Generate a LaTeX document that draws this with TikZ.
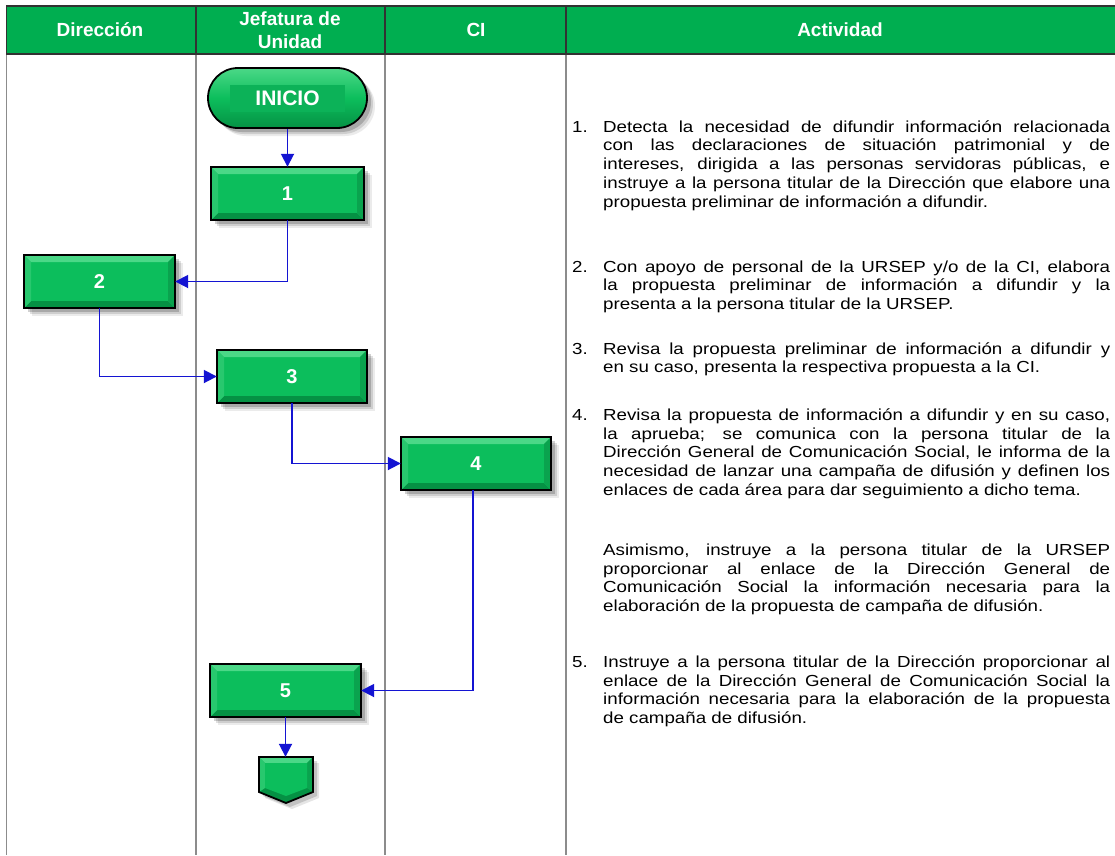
\documentclass[tikz,border=0pt]{standalone}
\usepackage{fontspec}
\setmainfont{Liberation Sans}
\newfontfamily\bodyfont[FakeStretch=1.17]{Liberation Sans}
\usetikzlibrary{arrows.meta}
\definecolor{hdr}{RGB}{0,174,80}
\definecolor{gmain}{RGB}{12,190,92}
\definecolor{gtop}{RGB}{75,216,135}
\definecolor{gleft}{RGB}{40,200,110}
\definecolor{gright}{RGB}{10,163,78}
\definecolor{gbot}{RGB}{5,145,68}
\definecolor{gin}{RGB}{12,178,88}
\definecolor{flowc}{RGB}{20,20,210}
\definecolor{rulec}{RGB}{140,140,140}
\definecolor{hdrline}{RGB}{50,50,50}
\tikzset{
  hdrtext/.style={font=\fontsize{19}{23}\selectfont\bfseries, text=white, align=center, inner sep=0},
  pbox/.style={fill=gmain, inner sep=0, text=white, font=\fontsize{20}{24}\selectfont\bfseries},
  flow/.style={draw=flowc, line width=1.8pt, -{Triangle[length=13pt,width=13pt]}},
  bodytext/.style={anchor=north west, inner sep=0, text width=507pt, font=\bodyfont\fontsize{16}{18.7}\selectfont},
  numtext/.style={anchor=north west, inner sep=0, font=\bodyfont\fontsize{16}{18.7}\selectfont},
}
\newcommand\jline[1]{\hbox to 507pt{\spaceskip=0pt\xspaceskip=0pt\strut #1}}
\newcommand\lline[1]{\hbox{\spaceskip=0pt\xspaceskip=0pt\strut #1}}
\newcommand\bbox[6]{%
  \pgfmathsetmacro\xa{#2-#4/2}\pgfmathsetmacro\xb{#2+#4/2}%
  \pgfmathsetmacro\ya{#3-#5/2}\pgfmathsetmacro\yb{#3+#5/2}%
  \foreach \s/\op in {8/0.08,6/0.12,4/0.18}{\fill[black,opacity=\op] (\xa+\s,\ya+\s) rectangle (\xb+\s,\yb+\s);}%
  \node[pbox, minimum width=#4pt, minimum height=#5pt] (#1) at (#2,#3) {};%
  \fill[gtop] (\xa,\ya) -- (\xb,\ya) -- (\xb-7,\ya+7) -- (\xa+7,\ya+7) -- cycle;%
  \fill[gbot] (\xa,\yb) -- (\xb,\yb) -- (\xb-7,\yb-7) -- (\xa+7,\yb-7) -- cycle;%
  \fill[gleft] (\xa,\ya) -- (\xa+7,\ya+7) -- (\xa+7,\yb-7) -- (\xa,\yb) -- cycle;%
  \fill[gright] (\xb,\ya) -- (\xb-7,\ya+7) -- (\xb-7,\yb-7) -- (\xb,\yb) -- cycle;%
  \draw[black, line width=1.8pt] (\xa,\ya) rectangle (\xb,\yb);%
  \node[text=white, font=\fontsize{20}{24}\selectfont\bfseries] at (#1) {#6};%
}
\begin{document}
\begin{tikzpicture}[x=1pt,y=-1pt]
\useasboundingbox (0,0) rectangle (1115,855);
\fill[white] (0,0) rectangle (1115,855);
% table body lines
\foreach \x in {6.5,196,385,566}{\draw[rulec, line width=1.5pt] (\x,54) -- (\x,855);}
% header
\fill[hdr] (6,6) rectangle (1115,54);
\draw[hdrline, line width=1.4pt] (6,6) -- (1115,6);
\draw[hdrline, line width=1.4pt] (6,54) -- (1115,54);
\foreach \x in {6.5,196,385,566}{\draw[hdrline, line width=1.4pt] (\x,6) -- (\x,54);}
\node[hdrtext] (h1) at (100,30) {Dirección};
\node[hdrtext] (h2) at (290,30) {Jefatura de\\Unidad};
\node[hdrtext] (h3) at (476,30) {CI};
\node[hdrtext] (h4) at (840,30) {Actividad};
% INICIO
\foreach \s/\op in {8/0.08,6/0.12,4/0.18}{\fill[black,opacity=\op,rounded corners=30pt] (208+\s,68+\s) rectangle (367+\s,128+\s);}
\node[draw=black, line width=1.8pt, rounded corners=30pt, minimum width=159pt, minimum height=60pt, inner sep=0,
      top color=gtop, bottom color=gbot, middle color=gmain] (inicio) at (287.5,98) {};
\fill[gin] (230,85) rectangle (345,112);
\node[text=white, font=\fontsize{21}{25}\selectfont\bfseries] at (inicio) {INICIO};
% process boxes
\bbox{b1}{287.5}{193.5}{153}{53}{1}
\bbox{b2}{99.5}{281.5}{151}{53}{2}
\bbox{b3}{292}{376.5}{150}{53}{3}
\bbox{b4}{476}{463.5}{150}{53}{4}
\bbox{b5}{285.5}{690.5}{151}{53}{5}
% end connector
\foreach \s/\op in {6/0.10,4/0.15}{\fill[black,opacity=\op] (259+\s,757+\s) -- (313+\s,757+\s) -- (313+\s,792+\s) -- (286+\s,803+\s) -- (259+\s,792+\s) -- cycle;}
\node[inner sep=0, minimum width=54pt, minimum height=46pt] (fin) at (285.5,780) {};
\fill[gbot] (259,757) -- (313,757) -- (313,792) -- (286,803) -- (259,792) -- cycle;
\fill[gtop] (259,757) -- (313,757) -- (307,763) -- (265,763) -- cycle;
\fill[gleft] (259,757) -- (265,763) -- (265,788) -- (259,792) -- cycle;
\fill[gright] (313,757) -- (307,763) -- (307,788) -- (313,792) -- cycle;
\fill[gmain] (265,763) -- (307,763) -- (307,788) -- (286,796) -- (265,788) -- cycle;
\draw[black, line width=1.8pt] (259,757) -- (313,757) -- (313,792) -- (286,803) -- (259,792) -- cycle;
% connectors
\draw[flow] (inicio.south) -- (b1.north);
\draw[flow] (b1.south) |- (b2.east);
\draw[flow] (b2.south) |- (b3.west);
\draw[flow] (b3.south) |- (b4.west);
\draw[flow] ([xshift=-3pt]b4.south) |- (b5.east);
\draw[flow] (b5.south) -- (fin.north);
% activity text
\node[numtext] (n1) at (572,119) {\strut 1.};
\node[bodytext] (t1) at (603,119) {%
\jline{Detecta la necesidad de difundir información relacionada}
\jline{con las declaraciones de situación patrimonial y de}
\jline{intereses, dirigida a las personas servidoras públicas, e}
\jline{instruye a la persona titular de la Dirección que elabore una}
\lline{propuesta preliminar de información a difundir.}};
\node[numtext] (n2) at (572,259) {\strut 2.};
\node[bodytext] (t2) at (603,259) {%
\jline{Con apoyo de personal de la URSEP y/o de la CI, elabora}
\jline{la propuesta preliminar de información a difundir y la}
\lline{presenta a la persona titular de la URSEP.}};
\node[numtext] (n3) at (572,341) {\strut 3.};
\node[bodytext] (t3) at (603,341) {%
\jline{Revisa la propuesta preliminar de información a difundir y}
\lline{en su caso, presenta la respectiva propuesta a la CI.}};
\node[numtext] (n4) at (572,407) {\strut 4.};
\node[bodytext] (t4) at (603,407) {%
\jline{Revisa la propuesta de información a difundir y en su caso,}
\jline{la aprueba; se comunica con la persona titular de la}
\jline{Dirección General de Comunicación Social, le informa de la}
\jline{necesidad de lanzar una campaña de difusión y definen los}
\lline{enlaces de cada área para dar seguimiento a dicho tema.}};
\node[bodytext] (t4b) at (603,542) {%
\jline{Asimismo, instruye a la persona titular de la URSEP}
\jline{proporcionar al enlace de la Dirección General de}
\jline{Comunicación Social la información necesaria para la}
\lline{elaboración de la propuesta de campaña de difusión.}};
\node[numtext] (n5) at (572,654) {\strut 5.};
\node[bodytext] (t5) at (603,654) {%
\jline{Instruye a la persona titular de la Dirección proporcionar al}
\jline{enlace de la Dirección General de Comunicación Social la}
\jline{información necesaria para la elaboración de la propuesta}
\lline{de campaña de difusión.}};
\end{tikzpicture}
\end{document}
